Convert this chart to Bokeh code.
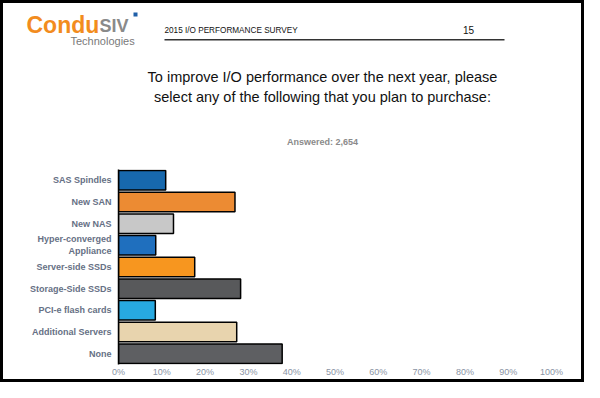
from bokeh.plotting import figure
from bokeh.layouts import column, row
from bokeh.models import (FactorRange, Range1d, FixedTicker, PrintfTickFormatter,
                          ColumnDataSource, Spacer)
from bokeh.core.properties import value
from bokeh.embed import file_html
from bokeh.resources import INLINE

# ---- data ----
categories = ["SAS Spindles", "New SAN", "New NAS", "Hyper-converged\nAppliance",
              "Server-side SSDs", "Storage-Side SSDs", "PCI-e flash cards",
              "Additional Servers", "None"]
percent = [10.9, 26.9, 12.7, 8.6, 17.6, 28.2, 8.5, 27.3, 37.8]
bar_colors = ["#1768ad", "#ec8b33", "#c8c8c8", "#1f6fbe", "#f7961f",
              "#58595b", "#27a9e1", "#e8d4ae", "#5e5f62"]
tick_values = [0, 10, 20, 30, 40, 50, 60, 70, 80, 90, 100]

title_lines = ["To improve I/O performance over the next year, please",
               "select any of the following that you plan to purchase:"]
answered = "Answered: 2,654"
header_text = "2015 I/O PERFORMANCE SURVEY"
page_number = "15"

FONT = "Liberation Sans"
B = 3            # page border thickness
WT = 584         # total width
W = WT - 2 * B   # inner width
H_TOP = 152
H_CHART = 224
BLACK = {"background-color": "black"}


def no_align(fig):
    if "frame_align" in fig.properties():
        fig.frame_align = False
    return fig

# ---------------- header figure (coordinates = page pixels) ----------------
h = figure(width=W, height=H_TOP, output_backend="svg", toolbar_location=None,
           x_range=Range1d(B, B + W), y_range=Range1d(B + H_TOP, B),
           min_border=0, x_axis_location=None, y_axis_location=None)
h.xgrid.visible = False
h.ygrid.visible = False
h.outline_line_color = None
h.background_fill_color = "white"
h.border_fill_color = "white"
no_align(h)


def txt(t, X, Y, size, color, align="left", style="normal", font=FONT):
    h.text(x=[X], y=[Y], text=[t], text_font=value(font), text_font_size=size,
           text_color=color, text_align=align, text_baseline="middle",
           text_font_style=style)

# logo
txt("Condu", 26, 24, "23px", "#f28c1e", style="bold")
txt("SIV", 99, 25.5, "18px", "#8a8a8a", style="bold")
txt("Technologies", 70, 40, "11px", "#7a7a7a")
h.quad(left=[133], right=[137], top=[12], bottom=[16], fill_color="#1f5fa8",
       line_color=None)

# header line
txt(header_text, 164, 30, "8.2px", "#111111")
txt(page_number, 468, 29.5, "10px", "#111111", align="center")
h.quad(left=[164], right=[504], top=[38.5], bottom=[40], fill_color="#333333",
       line_color=None)

# title
txt(title_lines[0], 322, 76, "14.5px", "#111111", align="center")
txt(title_lines[1], 322, 96, "14.5px", "#111111", align="center")
txt(answered, 322, 141, "9px", "#8a8a8a", align="center", style="bold")

# ---------------- chart figure ----------------
p = figure(width=W, height=H_CHART, output_backend="svg", toolbar_location=None,
           y_range=FactorRange(*categories[::-1]), x_range=Range1d(0, 100),
           min_border_left=115, min_border_right=30, min_border_top=14,
           min_border_bottom=14)
p.outline_line_color = None
p.background_fill_color = "white"
p.border_fill_color = "white"
p.xgrid.visible = False
p.ygrid.visible = False
no_align(p)

src = ColumnDataSource(dict(cat=categories, val=percent, color=bar_colors))
p.hbar(y="cat", right="val", left=0, height=0.9, fill_color="color",
       line_color="black", line_width=1.5, source=src)

xa = p.xaxis[0]
xa.ticker = FixedTicker(ticks=tick_values)
xa.formatter = PrintfTickFormatter(format="%d%%")
xa.axis_line_color = None
xa.major_tick_line_color = None
xa.minor_tick_line_color = None
xa.major_tick_out = 0
xa.minor_tick_out = 0
xa.major_tick_in = 0
xa.major_label_text_font = FONT
xa.major_label_text_font_size = "9px"
xa.major_label_text_color = "#8a94a4"
xa.major_label_standoff = 2

ya = p.yaxis[0]
ya.axis_line_color = "black"
ya.axis_line_width = 1.5
ya.major_tick_line_color = None
ya.minor_tick_line_color = None
ya.major_tick_out = 0
ya.minor_tick_out = 0
ya.major_tick_in = 0
ya.major_label_text_font = FONT
ya.major_label_text_font_size = "9px"
ya.major_label_text_font_style = "bold"
ya.major_label_text_color = "#667085"
ya.major_label_standoff = 7


def side():
    return Spacer(width=B, height=H_TOP + H_CHART, styles=BLACK)


inner = column(h, p, spacing=0)
middle = row(side(), inner, side(), spacing=0)
layout = column(Spacer(width=WT, height=B, styles=BLACK), middle,
                Spacer(width=WT, height=B, styles=BLACK), spacing=0)

open("out.html", "w").write(file_html(layout, INLINE))
